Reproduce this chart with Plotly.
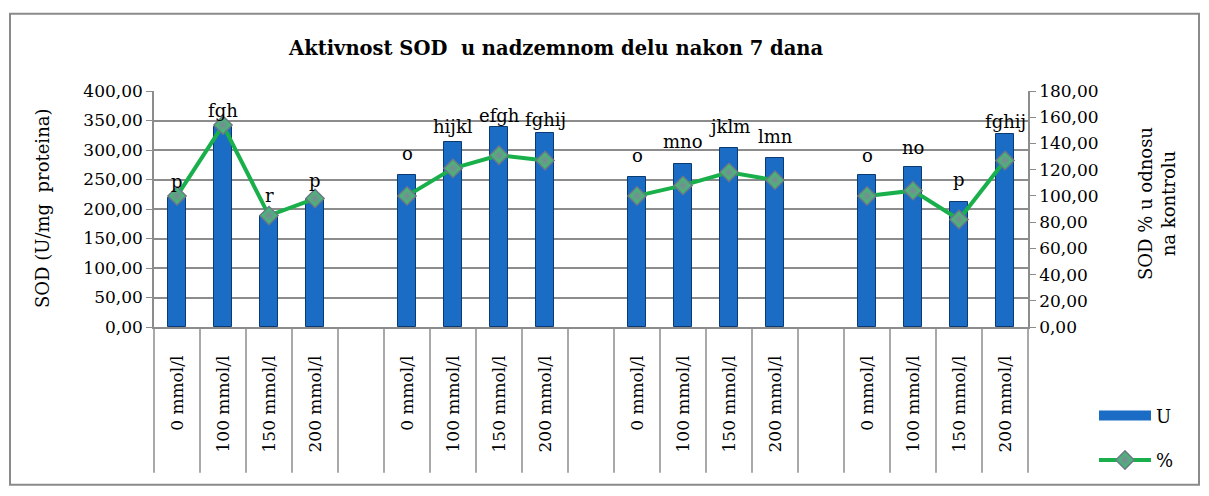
import plotly.graph_objects as go

# categories (blank entries are the gaps between the four groups)
doses = ["0 mmol/l", "100 mmol/l", "150 mmol/l", "200 mmol/l"]
categories = doses + [""] + doses + [""] + doses + [""] + doses

# SOD activity (U/mg proteina), left axis
sod_u = [219, 339, 188, 216, None,
         258, 313, 339, 329, None,
         255, 277, 304, 287, None,
         257, 271, 212, 327]

# SOD % relative to control, right axis
sod_pct = [100, 154, 85, 98, None,
           100, 121, 131, 127, None,
           100, 108, 118, 112, None,
           100, 104, 82, 127]

# significance letters above bars
letters = ["p", "fgh", "r", "p", "",
           "o", "hijkl", "efgh", "fghij", "",
           "o", "mno", "jklm", "lmn", "",
           "o", "no", "p", "fghij"]

OFF = 8  # page body margin
W, H = 1193, 482
L, R, T, B = 154 - OFF, 1028 - OFF, 91 - OFF, 329 - OFF
FONT = "DejaVu Serif"
GRID = "#8c8c8c"
BLUE = "#1a6cc4"
GREEN = "#19b04b"

x = list(range(len(categories)))


def px(xp, yp):
    """reference-picture pixel -> paper coords"""
    return (xp - OFF - L) / (R - L), (B - (yp - OFF)) / (B - T)


fig = go.Figure()

fig.add_trace(go.Bar(
    x=x, y=sod_u, width=0.39, name="U", showlegend=False,
    marker=dict(color=BLUE, line=dict(color="#0b3a72", width=1)),
))

# legend stand-in for the bar series (wide bar symbol like the original)
fig.add_trace(go.Scatter(
    x=[None], y=[None], name="U", mode="lines", legendgroup="a",
    line=dict(color=BLUE, width=11),
))

fig.add_trace(go.Scatter(
    x=x, y=sod_pct, yaxis="y2", name="%", mode="lines+markers",
    connectgaps=False, legendgroup="b",
    line=dict(color=GREEN, width=4),
    marker=dict(symbol="diamond", size=14, color="#2bd067",
                gradient=dict(type="radial", color="#7d8696"),
                line=dict(color="#6f7888", width=1.5)),
))

# letters above the bars
lift = [16, 16, 21, 19, 0,
        21, 16, 11, 13, 0,
        21, 22, 21, 21, 0,
        20, 20, 22, 13]
for xi, v, t, dy in zip(x, sod_u, letters, lift):
    if v is None or not t:
        continue
    fig.add_annotation(x=xi, y=v, text=t, showarrow=False, yanchor="middle",
                       yshift=dy, font=dict(family=FONT, size=18, color="black"))

shapes = []
# category dividers below the axis
n = len(categories)
y_bot = px(0, 476)[1]
for i in range(n + 1):
    shapes.append(dict(type="line", xref="paper", yref="paper",
                       x0=i / n, x1=i / n, y0=0, y1=y_bot,
                       line=dict(color=GRID, width=1.5)))
# chart border
bx0, by0 = px(10, 488)
bx1, by1 = px(1199, 13)
shapes.append(dict(type="rect", xref="paper", yref="paper",
                   x0=bx0, x1=bx1, y0=by0, y1=by1,
                   line=dict(color="#8a8a8a", width=2)))

tx, ty = px(556, 48)
lx, ly = px(42, 209)
rx, ry = px(1157, 205)
fig.add_annotation(x=tx, y=ty, xref="paper", yref="paper", showarrow=False,
                   xanchor="center", yanchor="middle",
                   text="<b>Aktivnost SOD  u nadzemnom delu nakon 7 dana</b>",
                   font=dict(family=FONT, size=19.5, color="black"))
fig.add_annotation(x=lx, y=ly, xref="paper", yref="paper", showarrow=False,
                   xanchor="center", yanchor="middle",
                   text="SOD (U/mg  proteina)", textangle=-90,
                   font=dict(family=FONT, size=18, color="black"))
fig.add_annotation(x=rx, y=ry, xref="paper", yref="paper", showarrow=False,
                   xanchor="center", yanchor="middle",
                   text="SOD % u odnosu<br>na kontrolu", textangle=-90,
                   font=dict(family=FONT, size=18, color="black"))

legx, legy = px(1094, 400)

fig.update_layout(
    width=W, height=H,
    margin=dict(l=L, r=W - R, t=T, b=H - B),
    paper_bgcolor="white", plot_bgcolor="white",
    separators=",.",
    font=dict(family=FONT, size=17, color="black"),
    bargap=0,
    shapes=shapes,
    showlegend=True,
    legend=dict(x=legx, y=legy, xanchor="left", yanchor="top",
                traceorder="grouped", tracegroupgap=18, itemwidth=52,
                font=dict(family=FONT, size=18), bgcolor="rgba(0,0,0,0)"),
    xaxis=dict(range=[-0.5, n - 0.5], tickvals=x, ticktext=categories,
               tickangle=-90, showgrid=False, zeroline=False,
               showline=True, linecolor=GRID, linewidth=1.5,
               ticks="", ticklabelstandoff=20,
               tickfont=dict(family=FONT, size=17)),
    yaxis=dict(range=[0, 400], dtick=50, tickformat=".2f",
               showgrid=True, gridcolor=GRID, gridwidth=1.5, zeroline=False,
               showline=True, linecolor=GRID, linewidth=1.5,
               ticks="outside", ticklen=6, tickcolor=GRID,
               tickfont=dict(family=FONT, size=17)),
    yaxis2=dict(overlaying="y", side="right", range=[0, 180], dtick=20,
                tickformat=".2f", showgrid=False, zeroline=False,
                showline=True, linecolor=GRID, linewidth=1.5,
                ticks="outside", ticklen=6, tickcolor=GRID,
                tickfont=dict(family=FONT, size=17)),
)

fig.write_html("out.html")
